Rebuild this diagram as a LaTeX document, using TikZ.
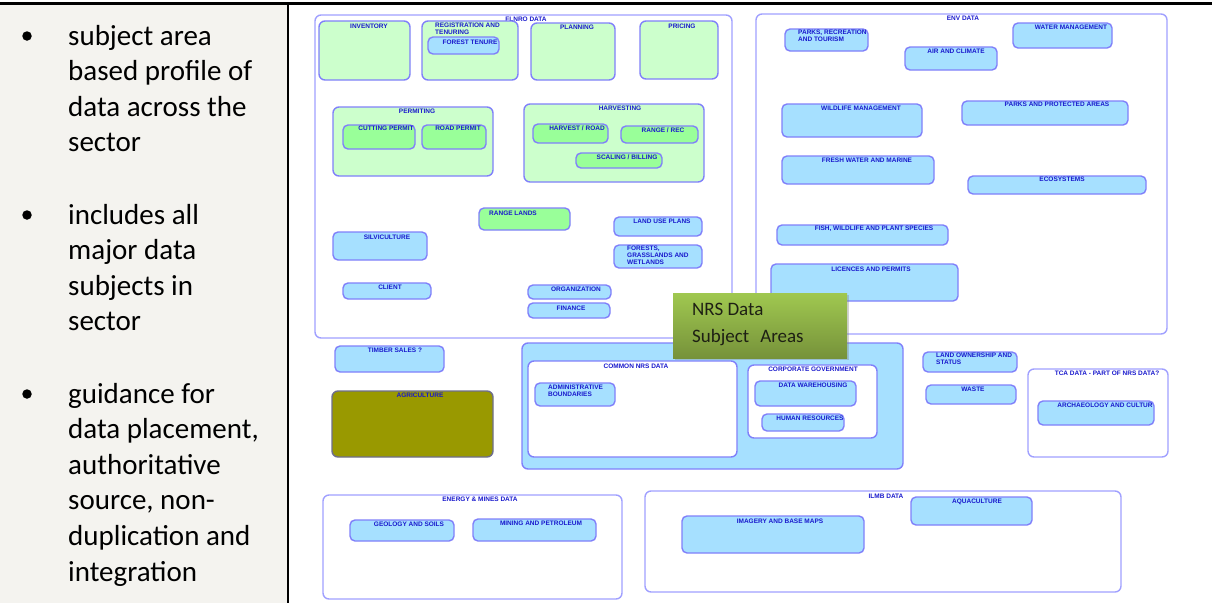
\documentclass[tikz,border=0pt]{standalone}
\usepackage{fontspec}
\setmainfont{Carlito}
\newfontfamily\boxfont{Liberation Sans}
\usetikzlibrary{fit,shadows}

\definecolor{panelgrey}{RGB}{244,243,239}
\definecolor{zoneline}{RGB}{160,160,255}
\definecolor{leafline}{RGB}{128,128,250}
\definecolor{palegreen}{RGB}{204,255,204}
\definecolor{midgreen}{RGB}{153,255,153}
\definecolor{skyblue}{RGB}{166,224,255}
\definecolor{olivefill}{RGB}{153,153,0}
\definecolor{oliveline}{RGB}{110,110,140}
\definecolor{tagblue}{RGB}{25,25,205}
\definecolor{nrstop}{RGB}{160,200,80}
\definecolor{nrsbottom}{RGB}{118,146,58}
\definecolor{nrsink}{RGB}{30,32,20}

% one rounded box spanning two corner points
\newcommand\zbox[6]{\node[#1, fit={(#3,#4) (#5,#6)}] (#2) {};}

\tikzset{
  x=1pt, y=-1pt,
  boxbase/.style={inner sep=0pt, outer sep=0pt, line width=1.4pt, rounded corners=5pt},
  zone/.style={boxbase, draw=zoneline, fill=white, rounded corners=6pt},
  whitebox/.style={boxbase, draw=leafline, fill=white, rounded corners=6pt},
  group/.style={boxbase, draw=leafline, fill=palegreen, rounded corners=6pt},
  leafgreen/.style={boxbase, draw=leafline, fill=midgreen},
  leafblue/.style={boxbase, draw=leafline, fill=skyblue},
  bigblue/.style={boxbase, draw=leafline, fill=skyblue, rounded corners=6pt},
  olivebox/.style={boxbase, draw=oliveline, fill=olivefill, rounded corners=6pt},
  tag/.style={font=\boxfont\bfseries\fontsize{6.5}{7}\selectfont, text=tagblue, inner sep=0pt},
  tagl/.style={tag, align=left, anchor=north west},
  bullettext/.style={font=\fontsize{29}{35.6}\selectfont, text=black, inner sep=0pt, anchor=base west},
  bulletdot/.style={circle, fill=black, inner sep=0pt, minimum size=9.5pt},
  nrsbox/.style={inner sep=0pt, outer sep=0pt, top color=nrstop, bottom color=nrsbottom, draw=none,
                 drop shadow={opacity=0.35, shadow xshift=2pt, shadow yshift=-2pt}},
  nrstext/.style={font=\fontsize{19}{23}\selectfont, text=nrsink, inner sep=0pt, anchor=base west},
}

\begin{document}
\begin{tikzpicture}
\useasboundingbox (0,0) rectangle (1212,603);

% ---------- left text column ----------
\fill[panelgrey] (0,4) rectangle (287,603);
\draw[black, line width=2.6pt] (0,3.5) -- (1212,3.5);
\draw[black, line width=2pt] (288,3) -- (288,603);

\node[bulletdot] (b1) at (27,36) {};
\node[bullettext] (t11) at (68,45.0) {subject area};
\node[bullettext] (t12) at (68,80.6) {based profile of};
\node[bullettext] (t13) at (68,116.2) {data across the};
\node[bullettext] (t14) at (68,151.8) {sector};

\node[bulletdot] (b2) at (27,215) {};
\node[bullettext] (t21) at (68,224.0) {includes all};
\node[bullettext] (t22) at (68,259.6) {major data};
\node[bullettext] (t23) at (68,295.2) {subjects in};
\node[bullettext] (t24) at (68,330.8) {sector};

\node[bulletdot] (b3) at (27,394) {};
\node[bullettext] (t31) at (68,403.0) {guidance for};
\node[bullettext] (t32) at (68,438.6) {data placement,};
\node[bullettext] (t33) at (68,474.2) {authoritative};
\node[bullettext] (t34) at (68,509.8) {source, non-};
\node[bullettext] (t35) at (68,545.4) {duplication and};
\node[bullettext] (t36) at (68,581.0) {integration};

% ---------- FLNRO data ----------
\zbox{zone}{flnro}{315}{15}{732}{338}
\node[tag] (flnro-t) at (526,19) {FLNRO DATA};

\zbox{group}{inv}{319}{21}{410}{80}
\node[tag] (inv-t) at (369,26) {INVENTORY};
\zbox{group}{reg}{422}{21}{518}{80}
\node[tagl] (reg-t) at (435,23) {REGISTRATION AND\\TENURING};
\zbox{leafblue}{tenure}{428}{37}{499}{54}
\node[tag] (tenure-t) at (470,42) {FOREST TENURE};
\zbox{group}{plan}{531}{23}{615}{80}
\node[tag] (plan-t) at (577,27) {PLANNING};
\zbox{group}{price}{640}{21}{718}{79}
\node[tag] (price-t) at (682,26) {PRICING};

\zbox{group}{permit}{333}{107}{493}{176}
\node[tag] (permit-t) at (417,111) {PERMITING};
\zbox{leafgreen}{cut}{343}{125}{415}{149}
\node[tag] (cut-t) at (386,128) {CUTTING PERMIT};
\zbox{leafgreen}{road}{422}{125}{486}{149}
\node[tag] (road-t) at (458,128) {ROAD PERMIT};

\zbox{group}{harv}{524}{104}{704}{182}
\node[tag] (harv-t) at (620,108) {HARVESTING};
\zbox{leafgreen}{hroad}{533}{124}{608}{143}
\node[tag] (hroad-t) at (577,128) {HARVEST / ROAD};
\zbox{leafgreen}{rrec}{621}{126}{698}{143}
\node[tag] (rrec-t) at (663,130) {RANGE / REC};
\zbox{leafgreen}{scal}{576}{153}{662}{168}
\node[tag] (scal-t) at (627,157) {SCALING / BILLING};

\zbox{leafgreen}{rland}{479}{208}{570}{230}
\node[tag] (rland-t) at (513,213) {RANGE LANDS};
\zbox{leafblue}{luse}{614}{217}{702}{236}
\node[tag] (luse-t) at (662,221) {LAND USE PLANS};
\zbox{leafblue}{fgw}{614}{245}{702}{268}
\node[tagl] (fgw-t) at (627,246) {FORESTS,\\GRASSLANDS AND\\WETLANDS};
\zbox{leafblue}{silv}{333}{232}{427}{260}
\node[tag] (silv-t) at (387,237) {SILVICULTURE};
\zbox{leafblue}{client}{343}{283}{431}{299}
\node[tag] (client-t) at (390,287) {CLIENT};
\zbox{leafblue}{org}{528}{285}{611}{299}
\node[tag] (org-t) at (576,289) {ORGANIZATION};
\zbox{leafblue}{fin}{528}{303}{610}{318}
\node[tag] (fin-t) at (571,308) {FINANCE};

% ---------- ENV data ----------
\zbox{zone}{env}{756}{14}{1167}{334}
\node[tag] (env-t) at (963,18) {ENV DATA};
\zbox{leafblue}{prt}{785}{29}{868}{51}
\node[tagl] (prt-t) at (798,30) {PARKS, RECREATION\\AND TOURISM};
\zbox{leafblue}{air}{905}{47}{997}{70}
\node[tag] (air-t) at (956,51) {AIR AND CLIMATE};
\zbox{leafblue}{water}{1013}{23}{1112}{48}
\node[tag] (water-t) at (1071,27) {WATER MANAGEMENT};
\zbox{leafblue}{wild}{782}{104}{922}{137}
\node[tag] (wild-t) at (861,108) {WILDLIFE MANAGEMENT};
\zbox{leafblue}{ppa}{962}{101}{1128}{125}
\node[tag] (ppa-t) at (1057,104) {PARKS AND PROTECTED AREAS};
\zbox{leafblue}{fresh}{782}{156}{934}{184}
\node[tag] (fresh-t) at (867,160) {FRESH WATER AND MARINE};
\zbox{leafblue}{eco}{968}{176}{1146}{194}
\node[tag] (eco-t) at (1062,179) {ECOSYSTEMS};
\zbox{leafblue}{fish}{777}{225}{948}{245}
\node[tag] (fish-t) at (874,229) {FISH, WILDLIFE AND PLANT SPECIES};
\zbox{leafblue}{lic}{771}{264}{958}{301}
\node[tag] (lic-t) at (871,269) {LICENCES AND PERMITS};

% ---------- middle band ----------
\zbox{leafblue}{timber}{335}{346}{444}{372}
\node[tag] (timber-t) at (395,350) {TIMBER SALES ?};
\zbox{olivebox}{agri}{332}{391}{493}{457}
\node[tag] (agri-t) at (420,395) {AGRICULTURE};

\zbox{bigblue}{nrsband}{522}{343}{903}{469}
\zbox{whitebox}{common}{528}{361}{737}{457}
\node[tag] (common-t) at (636,366) {COMMON NRS DATA};
\zbox{leafblue}{admin}{535}{383}{615}{406}
\node[tagl] (admin-t) at (548,385) {ADMINISTRATIVE\\BOUNDARIES};
\zbox{whitebox}{corp}{748}{365}{877}{438}
\node[tag] (corp-t) at (813,369) {CORPORATE GOVERNMENT};
\zbox{leafblue}{dwh}{755}{381}{856}{406}
\node[tag] (dwh-t) at (813,385) {DATA WAREHOUSING};
\zbox{leafblue}{hr}{762}{414}{844}{431}
\node[tag] (hr-t) at (810,418) {HUMAN RESOURCES};

\zbox{leafblue}{lown}{923}{352}{1017}{372}
\node[tagl] (lown-t) at (936,353) {LAND OWNERSHIP AND\\STATUS};
\zbox{leafblue}{waste}{926}{385}{1016}{404}
\node[tag] (waste-t) at (973,389) {WASTE};
\zbox{zone}{tca}{1028}{369}{1168}{457}
\node[tag] (tca-t) at (1107,373) {TCA DATA - PART OF NRS DATA?};
\zbox{leafblue}{arch}{1038}{401}{1154}{425}
\node[tag] (arch-t) at (1105,405) {ARCHAEOLOGY AND CULTUR};

% ---------- bottom band ----------
\zbox{zone}{em}{323}{495}{622}{599}
\node[tag] (em-t) at (480,499) {ENERGY \& MINES DATA};
\zbox{leafblue}{geo}{350}{520}{454}{541}
\node[tag] (geo-t) at (409,524) {GEOLOGY AND SOILS};
\zbox{leafblue}{mine}{473}{519}{596}{541}
\node[tag] (mine-t) at (541,523) {MINING AND PETROLEUM};

\zbox{zone}{ilmb}{645}{491}{1121}{592}
\node[tag] (ilmb-t) at (886,496) {ILMB DATA};
\zbox{leafblue}{aqua}{911}{497}{1032}{525}
\node[tag] (aqua-t) at (977,502) {AQUACULTURE};
\zbox{leafblue}{img}{682}{516}{864}{553}
\node[tag] (img-t) at (780,521) {IMAGERY AND BASE MAPS};

% ---------- title card ----------
\zbox{nrsbox}{nrs}{673}{293}{847}{358}
\node[nrstext] (nrs-1) at (692,315) {NRS Data};
\node[nrstext] (nrs-2) at (692,342) {Subject\hspace{11pt}Areas};
\end{tikzpicture}
\end{document}
